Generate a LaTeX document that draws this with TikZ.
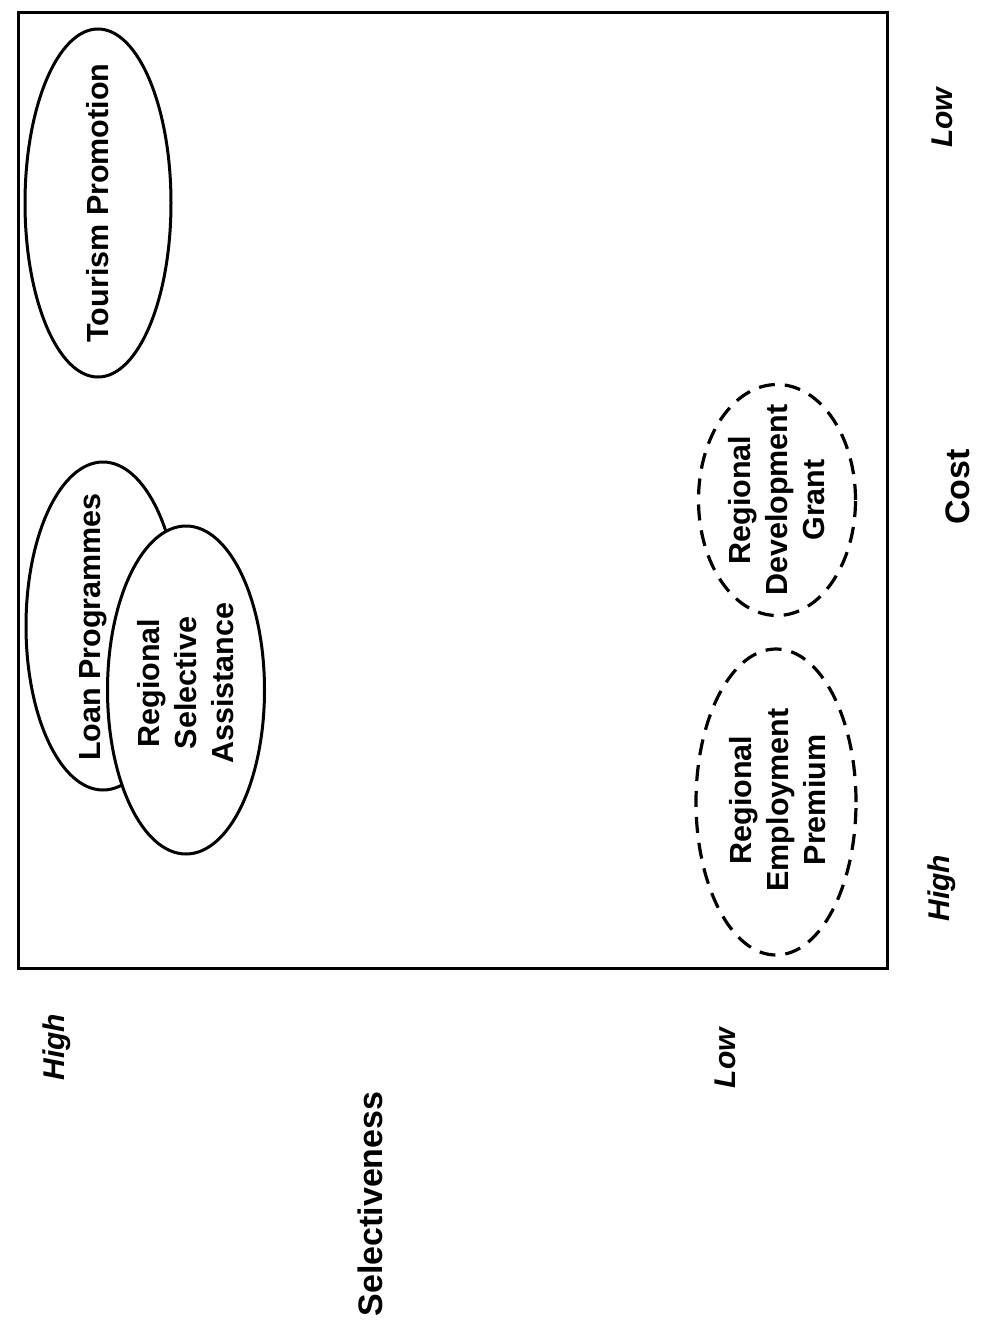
\documentclass[tikz,border=0pt]{standalone}
\usepackage{fontspec}
\setmainfont{Liberation Sans}
\usetikzlibrary{shapes.geometric}
\begin{document}
\begin{tikzpicture}[x=1pt,y=-1pt,
  oval/.style={ellipse, draw=black, line width=3pt, fill=white, inner sep=0pt},
  dashedoval/.style={oval, line width=3.2pt, dash pattern=on 16pt off 10pt},
  ovaltext/.style={rotate=90, inner sep=0pt, align=center,
    font=\fontsize{30.5}{37}\selectfont\bfseries},
  axislabel/.style={rotate=90, font=\fontsize{30}{36}\selectfont\bfseries\itshape},
  axistitle/.style={rotate=90, font=\fontsize{34}{40}\selectfont\bfseries}]
\useasboundingbox (0,0) rectangle (1006,1325);

% plot frame
\node (frame) [draw=black, line width=3pt, minimum width=869pt, minimum height=956pt,
  inner sep=0pt] at (452.5,490) {};

% instruments: outlines first, labels on top
\node (tourism) [oval, minimum width=146pt, minimum height=348pt] at (98,203) {};
\node (tourismtext) [ovaltext] at (98,203) {Tourism Promotion};

\node (loan) [oval, minimum width=154pt, minimum height=328pt] at (103,626) {};
\node (loantext) [ovaltext] at (93,627) {Loan Programmes};

\node (rsa) [oval, minimum width=157pt, minimum height=328pt] at (186,690) {};
\node (rsatext) [ovaltext] at (186,683) {Regional\\Selective\\Assistance};

\node (rdg) [dashedoval, minimum width=157pt, minimum height=231pt] at (777,500) {};
\node (rdgtext) [ovaltext] at (777,500) {Regional\\Development\\Grant};

\node (rep) [dashedoval, minimum width=160pt, minimum height=306pt] at (776,802) {};
\node (reptext) [ovaltext] at (778,800) {Regional\\Employment\\Premium};

% cost axis
\node (costlow) [axislabel] at (942,118) {Low};
\node (cost) [axistitle] at (958,487) {Cost};
\node (costhigh) [axislabel] at (942,888) {High};

% selectiveness axis
\node (selhigh) [axislabel] at (57,1047) {High};
\node (sel) [axistitle] at (370,1204) {Selectiveness};
\node (sellow) [axislabel] at (725,1058) {Low};
\end{tikzpicture}
\end{document}
